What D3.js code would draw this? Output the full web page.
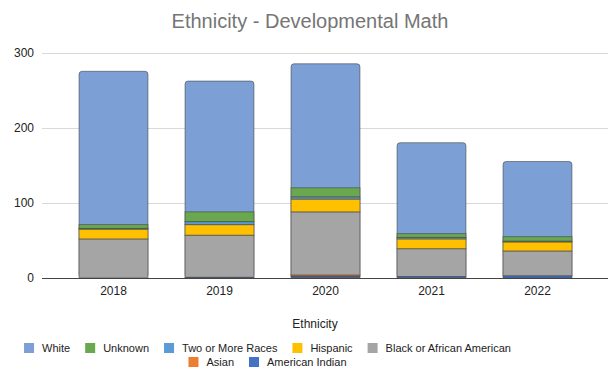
<!DOCTYPE html>
<html>
<head>
<meta charset="utf-8">
<script src="https://cdn.jsdelivr.net/npm/d3@7"></script>
<style>
  html, body { margin: 0; padding: 0; background: #fff; }
  svg { display: block; font-family: "Liberation Sans", Arial, Helvetica, sans-serif; }
</style>
</head>
<body>
<svg id="chart" width="608" height="370"></svg>
<script>
// ---- data ----
const years = ["2018", "2019", "2020", "2021", "2022"];
const americanIndian = [0, 1, 2, 2, 3];
const asian = [0, 0, 2, 0, 0];
const blackAfricanAmerican = [52, 56, 84, 37, 33];
const hispanic = [13, 14, 17, 13, 12];
const twoOrMoreRaces = [1, 4, 3, 2, 1];
const unknown = [5, 13, 12, 5, 6];
const white = [204, 174, 165, 121, 100];
const yTicks = [0, 100, 200, 300];

const seriesNames = ["American Indian", "Asian", "Black or African American", "Hispanic", "Two or More Races", "Unknown", "White"];
const seriesValues = [americanIndian, asian, blackAfricanAmerican, hispanic, twoOrMoreRaces, unknown, white];
const seriesColors = ["#4472c4", "#ed7d31", "#a5a5a5", "#ffc000", "#5b9bd5", "#6aa84f", "#7c9fd6"];
const legendOrder = ["White", "Unknown", "Two or More Races", "Hispanic", "Black or African American", "Asian", "American Indian"];

// ---- build table ----
const table = years.map((y, i) => {
  const row = { year: y };
  seriesNames.forEach((s, k) => row[s] = seriesValues[k][i]);
  return row;
});
const stacked = d3.stack().keys(seriesNames)(table);
const color = d3.scaleOrdinal().domain(seriesNames).range(seriesColors);

const svg = d3.select("#chart");
const x = d3.scaleBand().domain(years).range([60.5, 590.5]).paddingInner(0.35).paddingOuter(0.175);
const y = d3.scaleLinear().domain([0, 300]).range([278, 52.5]);

// gridlines
svg.append("g").selectAll("line").data(yTicks.filter(d => d !== 0)).join("line")
  .attr("x1", 42).attr("x2", 608)
  .attr("y1", d => Math.round(y(d)) + 0.5).attr("y2", d => Math.round(y(d)) + 0.5)
  .attr("stroke", "#d9d9d9").attr("stroke-width", 1);

// y labels
svg.append("g").selectAll("text").data(yTicks).join("text")
  .attr("x", 34).attr("y", d => y(d)).attr("dy", "0.35em")
  .attr("text-anchor", "end").attr("font-size", 12).attr("fill", "#222")
  .text(d => d);

// bars: full outline as base (rounded top), then segments
const bars = svg.append("g");
bars.selectAll("rect.base").data(table).join("rect")
  .attr("class", "base")
  .attr("x", d => x(d.year)).attr("width", x.bandwidth())
  .attr("y", (d, i) => y(stacked[stacked.length - 1][i][1]))
  .attr("height", (d, i) => y(0) - y(stacked[stacked.length - 1][i][1]))
  .attr("rx", 3).attr("ry", 3)
  .attr("fill", color("White"))
  .attr("stroke", "rgba(60,60,60,0.55)").attr("stroke-width", 1);

stacked.forEach((layer, k) => {
  if (layer.key === "White") return;
  bars.append("g").selectAll("rect").data(layer).join("rect")
    .attr("x", d => x(d.data.year)).attr("width", x.bandwidth())
    .attr("y", d => y(d[1]))
    .attr("height", d => Math.max(0, y(d[0]) - y(d[1])))
    .attr("fill", color(layer.key))
    .attr("stroke", d => (d[1] - d[0]) > 0 ? "rgba(60,60,60,0.55)" : "none")
    .attr("stroke-width", 1);
});

// baseline
svg.append("line").attr("x1", 42).attr("x2", 608)
  .attr("y1", y(0) + 0.5).attr("y2", y(0) + 0.5)
  .attr("stroke", "#444").attr("stroke-width", 1);

// x labels
svg.append("g").selectAll("text").data(years).join("text")
  .attr("x", d => x(d) + x.bandwidth() / 2).attr("y", 295)
  .attr("text-anchor", "middle").attr("font-size", 12).attr("fill", "#222")
  .text(d => d);

// x axis title
svg.append("text").attr("x", 315).attr("y", 328)
  .attr("text-anchor", "middle").attr("font-size", 12).attr("fill", "#222")
  .text("Ethnicity");

// title
svg.append("text").attr("x", 310).attr("y", 28)
  .attr("text-anchor", "middle").attr("font-size", 20).attr("fill", "#757575")
  .text("Ethnicity - Developmental Math");

// legend
const rows = [legendOrder.slice(0, 5), legendOrder.slice(5)];
const rowY = [348, 362];
const legendCenter = 267.5;
rows.forEach((items, r) => {
  const g = svg.append("g");
  let cx = 0;
  items.forEach((name, j) => {
    const ig = g.append("g").attr("transform", `translate(${cx},0)`);
    ig.append("rect").attr("x", 0).attr("y", rowY[r] - 5).attr("width", 10).attr("height", 10)
      .attr("fill", color(name));
    const t = ig.append("text").attr("x", 18).attr("y", rowY[r]).attr("dy", "0.35em")
      .attr("font-size", 11).attr("fill", "#222").text(name);
    const w = t.node().getComputedTextLength();
    cx += 18 + w + 15;
  });
  const total = cx - 15;
  g.attr("transform", `translate(${legendCenter - total / 2},0)`);
});
</script>
</body>
</html>
